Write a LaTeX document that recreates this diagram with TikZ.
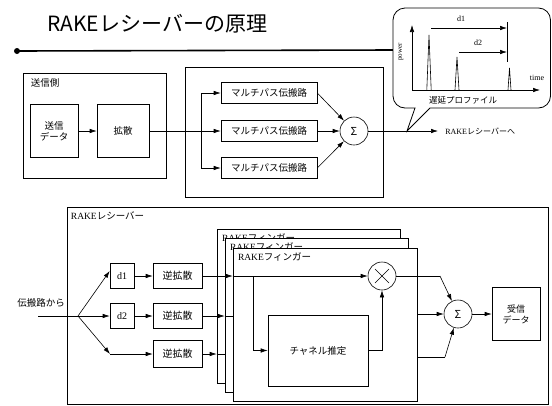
\documentclass[tikz,border=0pt]{standalone}
\usepackage{fontspec}
\setmainfont{Liberation Serif}
\newfontfamily\jp{Noto Sans CJK JP}
\usetikzlibrary{arrows.meta,calc}
\begin{document}
\begin{tikzpicture}[x=1pt,y=-1pt, line width=0.6pt,
  >={Latex[length=7pt,width=4.5pt]},
  box/.style={draw, fill=white, inner sep=0pt, align=center, font=\jp\fontsize{9.5}{11}\selectfont},
  frame/.style={draw, line width=0.75pt, fill=white, inner sep=0pt},
  opc/.style={draw, circle, minimum size=28pt, inner sep=0pt, fill=white, font=\jp\fontsize{11}{12}\selectfont},
  lbl/.style={anchor=north west, inner sep=0pt, font=\jp\fontsize{9.5}{11}\selectfont},
  small/.style={inner sep=0pt, font=\fontsize{8}{9}\selectfont}
]
\useasboundingbox (0,0) rectangle (552,405);

% ---------- title ----------
\node[anchor=west, inner sep=0pt, font=\jp\fontsize{21}{24}\selectfont] (title) at (47,24) {RAKEレシーバーの原理};
\coordinate (dot) at (17,51);
\coordinate (cl) at (393,50);
\fill (dot) circle (3pt);
\draw[line width=1.6pt] (dot) -- (cl);

% ---------- callout (delay profile) ----------
\draw[line width=0.8pt, fill=white] (430,108) [rounded corners=12pt] -- (550.5,108) -- (550.5,8) -- (393,8) -- (393,108) [sharp corners] -- (415,108) -- (407,131) -- cycle;
\coordinate (o) at (412,90);
\coordinate (ytop) at (412,25);
\coordinate (xend) at (540,90);
\draw[->] (o) -- (ytop);
\draw[->] (o) -- (xend);
\node[small, rotate=90, font=\fontsize{7}{8}\selectfont] (pw) at (401,52) {power};
\node[small] (tm) at (537,78) {time};
\draw (426.8,90) -- (429,35) -- (431.2,90);
\draw (455,90) -- (457,57) -- (459,90);
\draw (508,90) -- (509.5,68) -- (511,90);
\coordinate (mk1) at (507,22);
\coordinate (mk2) at (507,62);
\draw (mk1) -- (mk2);
\coordinate (a1) at (431,28);
\coordinate (a2) at (459,52);
\draw[->] (a1) -- (a1-|mk1);
\draw[->] (a2) -- (a2-|mk1);
\node[small] (d1l) at (461,19) {d1};
\node[small] (d2l) at (478,43) {d2};
\node[inner sep=0pt, font=\jp\fontsize{8.5}{10}\selectfont] (dp) at (463,100) {遅延プロファイル};

% ---------- transmitter ----------
\node[frame, minimum width=143pt, minimum height=105pt] (tx) at (94.5,125.5) {};
\node[lbl] (txl) at ($(tx.north west)+(8,6)$) {送信側};
\node[box, minimum width=48pt, minimum height=53pt] (sd) at (54,131) {送信\\データ};
\node[box, minimum width=52pt, minimum height=53pt] (kak) at (123,131) {拡散};
\draw[->] (sd) -- (kak);

% ---------- multipath ----------
\node[frame, minimum width=198pt, minimum height=130pt] (mp) at (284,132) {};
\node[box, minimum width=96pt, minimum height=21pt] (m1) at (269,93) {マルチパス伝搬路};
\node[box, minimum width=96pt, minimum height=21pt] (m2) at (269,131) {マルチパス伝搬路};
\node[box, minimum width=96pt, minimum height=21pt] (m3) at (269,168) {マルチパス伝搬路};
\coordinate (br) at (201,131);
\draw (kak.east) -- (br);
\draw (br|-m1.west) -- (br|-m3.west);
\draw[->] (br|-m1.west) -- (m1.west);
\draw[->] (br) -- (m2.west);
\draw[->] (br|-m3.west) -- (m3.west);
\node[opc] (s1) at (354,131) {Σ};
\draw[->] (m1.east) -- (s1);
\draw[->] (m2.east) -- (s1);
\draw[->] (m3.east) -- (s1);
\coordinate (out) at (438,131);
\draw[->] (s1) -- (out);
\node[anchor=west, inner sep=0pt, font=\fontsize{8}{9}\selectfont] (rkout) at (445,131) {RAKE{\jp レシーバーへ}};

% ---------- RAKE receiver ----------
\node[frame, minimum width=481pt, minimum height=197pt] (rx) at (307.5,305.5) {};
\node[anchor=north west, inner sep=0pt, font=\fontsize{9.5}{11}\selectfont] (rxl) at ($(rx.north west)+(4,5)$) {RAKE{\jp レシーバー}};
\node[inner sep=0pt, font=\jp\fontsize{9.5}{11}\selectfont] (src) at (41,303) {伝搬路から};
\coordinate (in) at (38,316);
\coordinate (b2) at (78,316);
\draw (in) -- (b2);
\node[box, font=\fontsize{10}{11}\selectfont, minimum width=24pt, minimum height=25pt] (d1) at (122,276) {d1};
\node[box, font=\fontsize{10}{11}\selectfont, minimum width=24pt, minimum height=25pt] (d2) at (122,316) {d2};
\coordinate (b3) at (110,354);
\node[box, font=\jp\fontsize{10}{11}\selectfont, minimum width=49pt, minimum height=25pt] (r1) at (177.5,276) {逆拡散};
\node[box, font=\jp\fontsize{10}{11}\selectfont, minimum width=49pt, minimum height=25pt] (r2) at (177.5,316) {逆拡散};
\node[box, font=\jp\fontsize{10}{11}\selectfont, minimum width=49pt, minimum height=27pt] (r3) at (177.5,354) {逆拡散};
\draw[->] (b2) -- ($(d1.west)+(0,-5)$);
\draw[->] (b2) -- (d2.west);
\draw[->] (b2) -- (b3);
\draw[->] (d1) -- (r1);
\draw[->] (d2) -- (r2);
\draw[->] (b3) -- (r3.west);

% fingers
\node[frame, line width=0.6pt, minimum width=183pt, minimum height=154pt] (f3) at (308.5,306) {};
\node[lbl] (f3l) at ($(f3.north west)+(5,5)$) {\rmfamily RAKE{\jp フィンガー}};
\node[frame, line width=0.6pt, minimum width=183pt, minimum height=154pt] (f2) at (316.5,315) {};
\node[lbl] (f2l) at ($(f2.north west)+(5,5)$) {\rmfamily RAKE{\jp フィンガー}};
\node[frame, line width=0.6pt, minimum width=184pt, minimum height=153pt] (f1) at (325,324.5) {};
\node[lbl] (f1l) at ($(f1.north west)+(5,5)$) {\rmfamily RAKE{\jp フィンガー}};

\draw[->] (r3.east) -- (r3.east-|f3.west);
\draw (r3.east-|f3.west) -- (r3.east-|f2.west);
\draw[->] (r2.east) -- (r2.east-|f2.west);
\draw (r2.east-|f2.west) -- (r2.east-|f1.west);
\draw[->] (r1.east) -- (r1.east-|f1.west);

\node[opc] (mul) at (382,276) {};
\draw ($(mul.center)+(-7,-7)$) -- ($(mul.center)+(7,7)$);
\draw ($(mul.center)+(-7,7)$) -- ($(mul.center)+(7,-7)$);
\node[box, minimum width=100pt, minimum height=71pt] (ce) at (318,350.5) {チャネル推定};
\coordinate (fb) at (253,276);
\draw[->] (r1.east-|f1.west) -- (mul.west);
\draw (fb) -- (fb|-ce.west);
\draw[->] (fb|-ce.west) -- (ce.west);
\draw (ce.east) -- (ce.east-|mul.south);
\draw[->] (ce.east-|mul.south) -- (mul.south);

\node[opc] (s2) at (458,314) {Σ};
\coordinate (k1) at (440,276);
\coordinate (k3) at (445,357);
\draw (mul.east) -- (k1);
\draw[->] (k1) -- (s2);
\draw[->] (f1.east|-s2) -- (s2.west);
\draw (f1.east|-k3) -- (k3);
\draw[->] (k3) -- (s2);
\node[box, font=\jp\fontsize{9}{11}\selectfont, minimum width=48pt, minimum height=53pt] (rd) at (516,314) {受信\\データ};
\draw[->] (s2) -- (rd);
\end{tikzpicture}
\end{document}
